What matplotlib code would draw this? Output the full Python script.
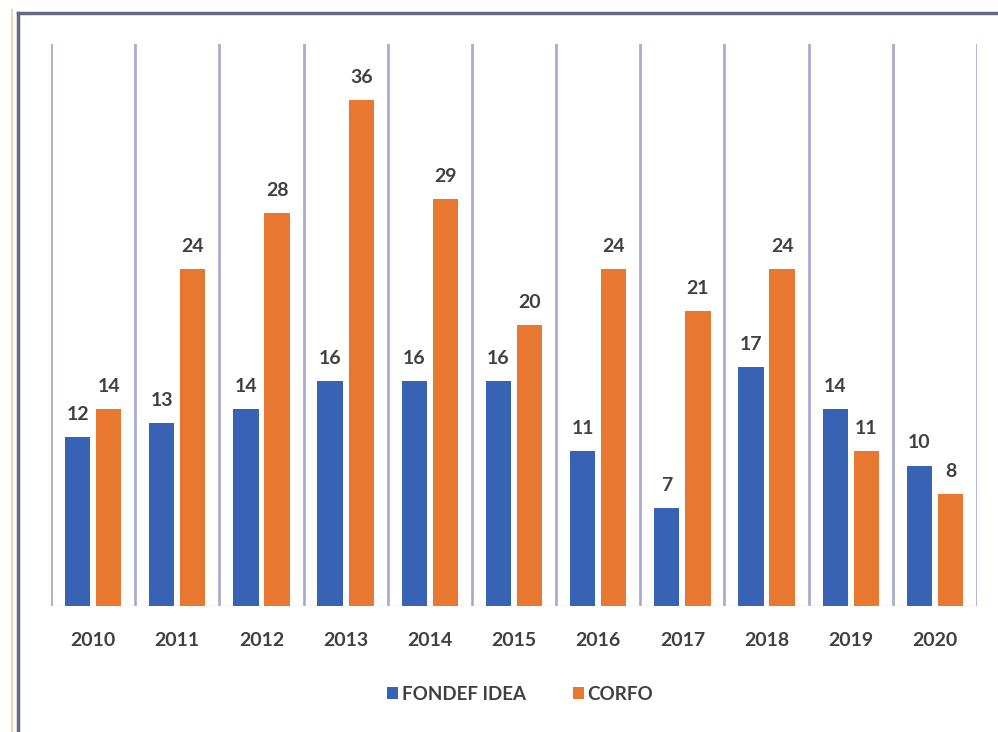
import matplotlib
matplotlib.use('Agg')
import matplotlib.pyplot as plt
import numpy as np
from matplotlib.lines import Line2D

plt.rcParams['font.family'] = ['Lato', 'DejaVu Sans']

years = ['2010', '2011', '2012', '2013', '2014', '2015', '2016', '2017', '2018', '2019', '2020']
fondef = [12, 13, 14, 16, 16, 16, 11, 7, 17, 14, 10]
corfo = [14, 24, 28, 36, 29, 20, 24, 21, 24, 11, 8]

blue = '#3863b4'
orange = '#e8782f'
textColor = '#404040'

fig = plt.figure(figsize=(9.98, 7.32), dpi=100)
ax = fig.add_axes([51 / 998, 1 - 606 / 732, 926 / 998, 562 / 732])

x = np.arange(len(years))
w = 0.30
off = 0.185
b1 = ax.bar(x - off, fondef, w, color=blue, label='FONDEF IDEA')
b2 = ax.bar(x + off, corfo, w, color=orange, label='CORFO')

for bars, vals in ((b1, fondef), (b2, corfo)):
    for r, v in zip(bars, vals):
        ax.text(r.get_x() + r.get_width() / 2, v + 1.0, str(v), ha='center', va='bottom',
                fontsize=14, fontweight='bold', color=textColor)

ax.set_xlim(-0.5, len(years) - 0.5)
ax.set_ylim(0, 40)
for b in np.arange(len(years) + 1) - 0.5:
    ax.axvline(b, color='#a9acd0', lw=2, zorder=0)
ax.axhline(0, color='#d8d8e0', lw=1, zorder=0)

ax.set_xticks(x)
ax.set_xticklabels(years, fontsize=14, fontweight='bold', color=textColor)
ax.tick_params(axis='x', length=0, pad=19)
ax.set_yticks([])
for s in ax.spines.values():
    s.set_visible(False)

leg = fig.legend(loc='center', bbox_to_anchor=(520 / 998, 1 - 694 / 732), ncol=2, frameon=False,
                 fontsize=13.5, handlelength=0.6, handleheight=0.6, handletextpad=0.2, columnspacing=2.5)
for t in leg.get_texts():
    t.set_color(textColor)
    t.set_fontweight('bold')

# outer frame of the pasted chart
fig.add_artist(Line2D([18 / 998, 1], [1 - 13 / 732, 1 - 13 / 732], color='#646a84', lw=2.5))
fig.add_artist(Line2D([18 / 998, 18 / 998], [0, 1 - 13 / 732], color='#646a84', lw=2.5))
fig.add_artist(Line2D([12 / 998, 12 / 998], [0, 1 - 10 / 732], color='#f3d3b3', lw=1.5))

fig.savefig('out.png', dpi=100)
